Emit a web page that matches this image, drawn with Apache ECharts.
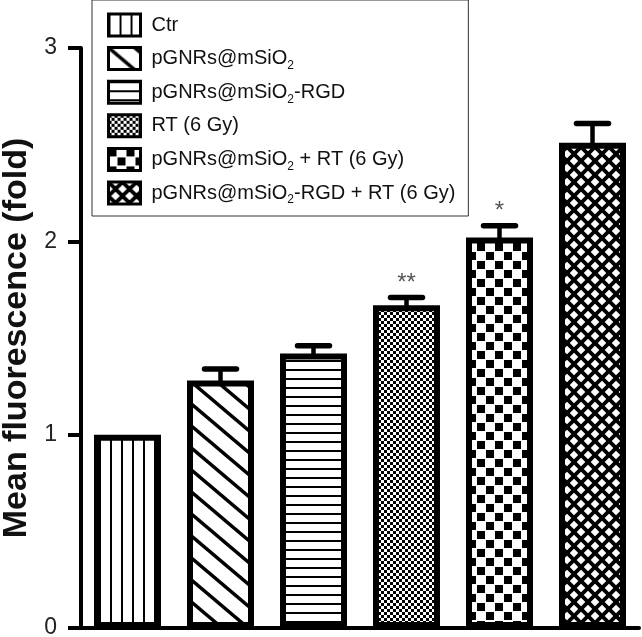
<!DOCTYPE html>
<html>
<head>
<meta charset="utf-8">
<script src="https://cdn.jsdelivr.net/npm/echarts@6/dist/echarts.min.js"></script>
<style>
html,body{margin:0;padding:0;background:#fff;}
#chart{width:642px;height:637px;}
</style>
</head>
<body>
<div id="chart"></div>
<script>
// ---- data ----
const categories = ['Ctr', 'pGNRs@mSiO2', 'pGNRs@mSiO2-RGD', 'RT (6 Gy)', 'pGNRs@mSiO2 + RT (6 Gy)', 'pGNRs@mSiO2-RGD + RT (6 Gy)'];
const values = [1.00, 1.28, 1.42, 1.67, 2.02, 2.51];
const errors = [0, 0.06, 0.04, 0.04, 0.06, 0.10];
const significance = ['', '', '', '**', '*', ''];
const yMin = 0, yMax = 3, yStep = 1;
const yTitle = 'Mean fluorescence (fold)';

// ---- patterns ----
function tile(w, h, draw) {
  const c = document.createElement('canvas');
  c.width = w; c.height = h;
  const ctx = c.getContext('2d');
  ctx.fillStyle = '#fff'; ctx.fillRect(0, 0, w, h);
  ctx.fillStyle = '#000'; ctx.strokeStyle = '#000';
  draw(ctx, w, h);
  return { image: c, repeat: 'repeat' };
}
const patterns = [
  tile(11, 4, (ctx, w, h) => { ctx.fillRect(0, 0, 2, h); }),
  tile(26, 22, (ctx, w, h) => {
    ctx.lineWidth = 3.5;
    for (let k = -1; k <= 1; k++) {
      ctx.beginPath(); ctx.moveTo(-2, k * h - 2 * h / w); ctx.lineTo(w + 2, k * h + h + 2 * h / w); ctx.stroke();
    }
  }),
  tile(4, 9, (ctx, w, h) => { ctx.fillRect(0, 0, w, 2); }),
  tile(6, 6, (ctx, w, h) => { ctx.fillRect(0, 0, 3, 3); ctx.fillRect(3, 3, 3, 3); }),
  tile(18, 18, (ctx, w, h) => { ctx.fillRect(0, 0, 8, 8); ctx.fillRect(9, 9, 8, 8); }),
  tile(14, 14, (ctx, w, h) => {
    ctx.lineWidth = 3.8;
    for (let k = -1; k <= 1; k++) {
      ctx.beginPath(); ctx.moveTo(-2, k * h - 2); ctx.lineTo(w + 2, k * h + h + 2); ctx.stroke();
      ctx.beginPath(); ctx.moveTo(-2, k * h + h + 2); ctx.lineTo(w + 2, k * h - 2); ctx.stroke();
    }
  })
];

const FONT = '"Liberation Sans", Arial, Helvetica, sans-serif';

const barSeries = categories.map((name, i) => ({
  type: 'bar',
  name: name,
  data: categories.map((c, j) => (j === i ? values[j] : '-')),
  barWidth: 67,
  barGap: '-100%',
  itemStyle: { color: patterns[i], borderColor: '#000', borderWidth: 6 },
  emphasis: { disabled: true },
  z: 2
}));

const errSeries = {
  type: 'custom',
  name: 'err',
  z: 3,
  data: categories.map((c, i) => [i, values[i], errors[i]]),
  renderItem: function (params, api) {
    const i = api.value(0), v = api.value(1), e = api.value(2);
    const base = api.coord([i, v]);
    const top = api.coord([i, v + e]);
    const children = [];
    if (e > 0) {
      children.push({ type: 'line', shape: { x1: top[0], y1: base[1] + 2, x2: top[0], y2: top[1] }, style: { stroke: '#000', lineWidth: 4.5 } });
      children.push({ type: 'line', shape: { x1: top[0] - 16, y1: top[1], x2: top[0] + 16, y2: top[1] }, style: { stroke: '#000', lineWidth: 5.5, lineCap: 'round' } });
    }
    const s = significance[params.dataIndex];
    if (s) {
      children.push({ type: 'text', style: { text: s, x: top[0], y: top[1] - 14, textAlign: 'center', textVerticalAlign: 'middle', font: '24px ' + FONT, fill: '#555' } });
    }
    return { type: 'group', children: children };
  }
};

const chart = echarts.init(document.getElementById('chart'), null, { renderer: 'canvas' });
chart.setOption({
  animation: false,
  backgroundColor: '#fff',
  grid: { left: 81, right: 3, top: 48, bottom: 9, containLabel: false, outerBoundsMode: 'none' },
  legend: {
    data: categories,
    orient: 'vertical',
    left: 92, top: 0,
    padding: [12, 13, 10, 15],
    itemWidth: 32, itemHeight: 22, itemGap: 7.6,
    icon: 'rect',
    selectedMode: false,
    borderColor: '#333', borderWidth: 1,
    backgroundColor: '#fff',
    itemStyle: { borderColor: '#000', borderWidth: 3 },
    textStyle: {
      fontFamily: FONT, fontSize: 20, color: '#111', lineHeight: 26,
      rich: {
        g: { width: 6, fontSize: 20, lineHeight: 26 },
        s: { fontSize: 12, lineHeight: 10, verticalAlign: 'bottom', fontFamily: FONT, color: '#111' }
      }
    },
    formatter: function (name) { return '{g| }' + name.replace(/SiO2/g, 'SiO{s|2}'); }
  },
  xAxis: {
    type: 'category',
    data: categories,
    axisLine: { lineStyle: { color: '#000', width: 4 } },
    axisTick: { show: false },
    axisLabel: { show: false },
    splitLine: { show: false }
  },
  yAxis: {
    type: 'value',
    min: yMin, max: yMax, interval: yStep,
    axisLine: { show: true, lineStyle: { color: '#000', width: 4 } },
    axisTick: { show: true, length: 13, lineStyle: { color: '#000', width: 4 } },
    axisLabel: { fontFamily: FONT, fontSize: 23, color: '#222', margin: 24 },
    splitLine: { show: false },
    name: yTitle,
    nameLocation: 'middle',
    nameGap: 45,
    nameTextStyle: { fontFamily: FONT, fontSize: 34, fontWeight: 'bold', color: '#111' }
  },
  series: barSeries.concat([errSeries])
});
</script>
</body>
</html>
